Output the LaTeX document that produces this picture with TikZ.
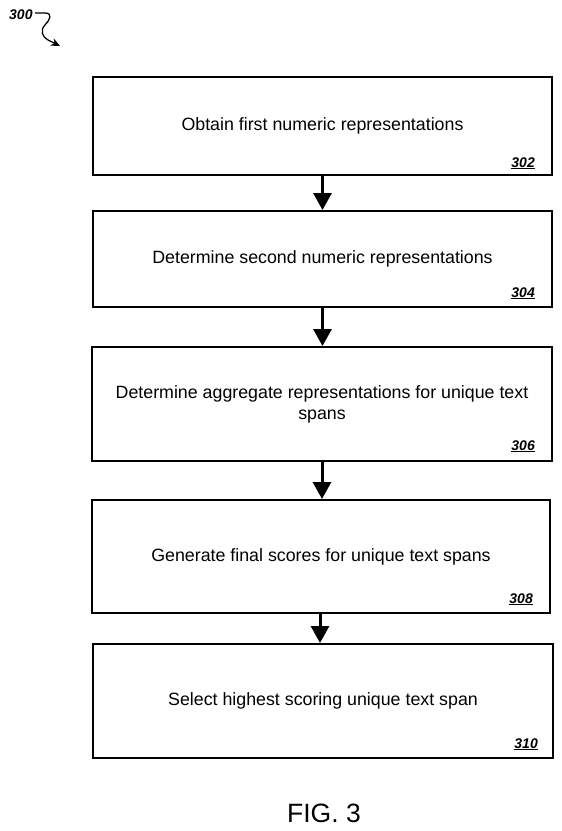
\documentclass[tikz,border=0pt]{standalone}
\usepackage{fontspec}
\setmainfont{Liberation Sans}
\usetikzlibrary{arrows.meta}
\tikzset{
  box/.style={draw, line width=2pt, minimum width=459pt, align=center, font=\fontsize{17.8}{21}\selectfont, inner sep=0pt},
  lbl/.style={anchor=base east, inner sep=0pt, font=\fontsize{14}{14}\selectfont\bfseries\itshape},
  arr/.style={line width=3pt, -{Triangle[width=18pt,length=17pt]}},
}
\begin{document}
\begin{tikzpicture}[x=1pt,y=-1pt]
\useasboundingbox[fill=white] (0,0) rectangle (562,831);
% boxes
\node[box, minimum height=98pt] (b1) at (322.5,126) {Obtain first numeric representations};
\node[box, minimum height=96pt] (b2) at (322.5,259) {Determine second numeric representations};
\node[box, minimum width=460pt, minimum height=114pt] (b3) at (322,404) {Determine aggregate representations for unique text\\spans};
\node[box, minimum width=458pt, minimum height=113pt] (b4) at (321,556.5) {Generate final scores for unique text spans};
\node[box, minimum width=460pt, minimum height=114pt] (b5) at (323,701) {Select highest scoring unique text span};
% reference labels
\node[lbl] (l1) at ([shift={(-18,-9)}]b1.south east) {\underline{302}};
\node[lbl] (l2) at ([shift={(-18,-11)}]b2.south east) {\underline{304}};
\node[lbl] (l3) at ([shift={(-18,-12)}]b3.south east) {\underline{306}};
\node[lbl] (l4) at ([shift={(-18,-11)}]b4.south east) {\underline{308}};
\node[lbl] (l5) at ([shift={(-16,-11)}]b5.south east) {\underline{310}};
% arrows
\draw[arr] (b1.south) -- (b1.south |- b2.north);
\draw[arr] (b2.south) -- (b2.south |- b3.north);
\draw[arr] (b3.south) -- (b3.south |- b4.north);
\draw[arr] ([xshift=-1pt]b4.south) -- ([xshift=-1pt]b4.south |- b5.north);
% figure number
\node[anchor=base, font=\fontsize{26.5}{26.5}\selectfont] (fig) at (324,822) {FIG. 3};
% 300 label with squiggle
\node[anchor=base west, inner sep=0pt, font=\fontsize{14}{14}\selectfont\bfseries\itshape] (n300) at (9,19) {300};
\coordinate (s0) at (35,13);
\coordinate (s1) at (60,46);
\draw[line width=1.3pt, -{Stealth[width=8pt,length=9pt]}] (s0) -- (45,13) .. controls (53,13) and (50,20) .. (45,25) .. controls (40,30) and (42,37) .. (48,40) -- (s1);
\end{tikzpicture}
\end{document}
